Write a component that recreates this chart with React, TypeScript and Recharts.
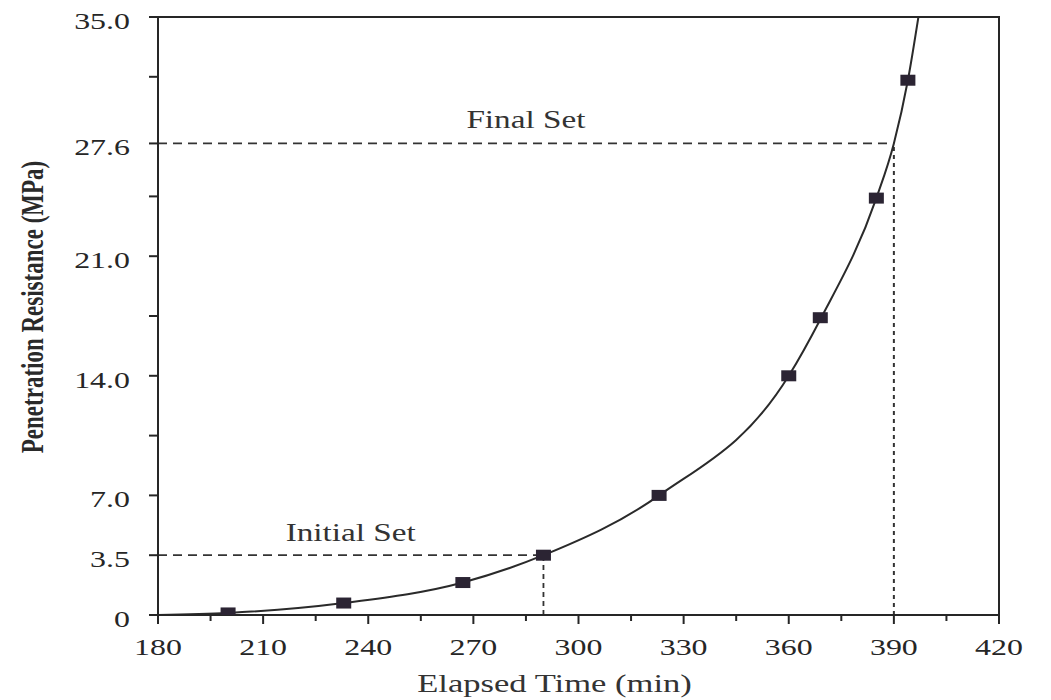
import React from 'react';
import {
  ComposedChart,
  Line,
  Scatter,
  XAxis,
  YAxis,
  ReferenceLine,
  ReferenceArea,
} from 'recharts';

// ---- data ----
const timeTicks = [180, 195, 210, 225, 240, 255, 270, 285, 300, 315, 330, 345, 360, 375, 390, 405, 420];
const timeTickLabels = ['180', '', '210', '', '240', '', '270', '', '300', '', '330', '', '360', '', '390', '', '420'];

const resistanceTicks = [0, 3.5, 7, 10.5, 14, 17.5, 21, 24.5, 27.6, 31.5, 35];
const resistanceTickLabels = ['0', '3.5', '7.0', '', '14.0', '', '21.0', '', '27.6', '', '35.0'];

const measuredTime = [200, 233, 267, 290, 323, 360, 369, 385, 394];
const measuredResistance = [0.12, 0.7, 1.9, 3.5, 7.0, 14.0, 17.4, 24.4, 31.3];

const curveTime = [180, 200, 233, 267, 290, 323, 360, 369, 385, 390, 394, 397];
const curveResistance = [0, 0.12, 0.7, 1.9, 3.5, 7.0, 14.0, 17.3, 24.4, 27.6, 31.3, 35.0];

const setNames = ['Initial Set', 'Final Set'];
const setTime = [290, 390];
const setResistance = [3.5, 27.6];

const xAxisTitle = 'Elapsed Time (min)';
const yAxisTitle = 'Penetration Resistance (MPa)';

// ---- derived tables ----
const measuredPoints = measuredTime.map((t, i) => ({ time: t, resistance: measuredResistance[i] }));
const curvePoints = curveTime.map((t, i) => ({ time: t, resistance: curveResistance[i] }));

const FONT = '"Liberation Serif", "Times New Roman", serif';
const INK = '#262626';
const SX = 1.33;

function TimeTick(props: any) {
  const { x, y, payload } = props;
  const idx = timeTicks.indexOf(payload.value);
  const label = idx >= 0 ? timeTickLabels[idx] : '';
  const major = label !== '';
  return (
    <g transform={`translate(${x},${y})`}>
      <line x1={0} y1={0} x2={0} y2={major ? 9 : 6} stroke={INK} strokeWidth={2} />
      {major && (
        <text
          transform={`scale(${SX},1)`}
          x={0}
          y={40}
          textAnchor="middle"
          fontFamily={FONT}
          fontSize={24}
          fill={INK}
        >
          {label}
        </text>
      )}
    </g>
  );
}

function ResistanceTick(props: any) {
  const { x, y, payload } = props;
  const idx = resistanceTicks.indexOf(payload.value);
  const label = idx >= 0 ? resistanceTickLabels[idx] : '';
  return (
    <g transform={`translate(${x},${y})`}>
      <line x1={0} y1={0} x2={-9} y2={0} stroke={INK} strokeWidth={2} />
      {label !== '' && (
        <g transform={`translate(-28,0) scale(${SX},1)`}>
          <text x={0} y={12} textAnchor="end" fontFamily={FONT} fontSize={24} fill={INK}>
            {label}
          </text>
        </g>
      )}
    </g>
  );
}

function SquareMarker(props: any) {
  const { cx, cy } = props;
  if (cx == null || cy == null) return null;
  return <rect x={cx - 7.5} y={cy - 5.5} width={15} height={11} fill="#2b2433" />;
}

function makeSetLabel(text: string, offset: number) {
  return (props: any) => {
    const vb = props.viewBox || {};
    const cx = (vb.x ?? 0) + (vb.width ?? 0) / 2;
    const cy = (vb.y ?? 0) - offset;
    return (
      <g transform={`translate(${cx},${cy}) scale(${SX},1)`}>
        <text x={0} y={0} textAnchor="middle" fontFamily={FONT} fontSize={25} fill="#333">
          {text}
        </text>
      </g>
    );
  };
}

function XTitle(props: any) {
  const vb = props.viewBox || {};
  const cx = vb.x + vb.width / 2 - 24;
  const cy = vb.y + 77;
  return (
    <g transform={`translate(${cx},${cy}) scale(${SX},1)`}>
      <text x={0} y={0} textAnchor="middle" fontFamily={FONT} fontSize={26} fill="#333">
        {xAxisTitle}
      </text>
    </g>
  );
}

function YTitle(props: any) {
  const vb = props.viewBox || {};
  const cy = vb.y + vb.height / 2 - 9;
  return (
    <g transform={`translate(24,${cy}) scale(${SX},1) rotate(-90)`}>
      <text x={0} y={0} dy="0.35em" textAnchor="middle" fontFamily={FONT} fontSize={23} fontWeight="bold" fill="#2a2a2a">
        {yAxisTitle}
      </text>
    </g>
  );
}

export default function App() {
  return (
    <div style={{ width: 1043, height: 692, fontFamily: FONT, background: '#fff' }}>
      <ComposedChart
        width={1043}
        height={692}
        margin={{ top: 9, right: 52, bottom: 0, left: 0 }}
      >
        <XAxis
          dataKey="time"
          type="number"
          domain={[180, 420]}
          ticks={timeTicks}
          interval={0}
          allowDataOverflow
          height={85}
          tickSize={0}
          tickMargin={0}
          tickLine={false}
          axisLine={{ stroke: INK, strokeWidth: 2 }}
          tick={<TimeTick />}
          label={<XTitle />}
        />
        <YAxis
          dataKey="resistance"
          type="number"
          domain={[0, 35]}
          ticks={resistanceTicks}
          interval={0}
          allowDataOverflow
          width={150}
          tickSize={0}
          tickMargin={0}
          tickLine={false}
          axisLine={{ stroke: INK, strokeWidth: 2 }}
          tick={<ResistanceTick />}
          label={<YTitle />}
        />
        <ReferenceArea
          x1={180}
          x2={420}
          y1={0}
          y2={35}
          fill="none"
          stroke={INK}
          strokeWidth={2}
        />
        {/* Initial set guide lines */}
        <ReferenceLine
          segment={[
            { x: 180, y: setResistance[0] },
            { x: setTime[0], y: setResistance[0] },
          ]}
          stroke="#333"
          strokeWidth={1.8}
          strokeDasharray="9 6"
          label={makeSetLabel(setNames[0], 14)}
        />
        <ReferenceLine
          segment={[
            { x: setTime[0], y: 0 },
            { x: setTime[0], y: setResistance[0] },
          ]}
          stroke="#333"
          strokeWidth={1.8}
          strokeDasharray="5 4"
        />
        {/* Final set guide lines */}
        <ReferenceLine
          segment={[
            { x: 180, y: setResistance[1] },
            { x: setTime[1], y: setResistance[1] },
          ]}
          stroke="#333"
          strokeWidth={1.8}
          strokeDasharray="9 6"
          label={makeSetLabel(setNames[1], 15)}
        />
        <ReferenceLine
          segment={[
            { x: setTime[1], y: 0 },
            { x: setTime[1], y: setResistance[1] },
          ]}
          stroke="#333"
          strokeWidth={2}
          strokeDasharray="4 4"
        />
        <Line
          data={curvePoints}
          dataKey="resistance"
          type="monotone"
          stroke="#2a2a2a"
          strokeWidth={2}
          dot={false}
          activeDot={false}
          isAnimationActive={false}
        />
        <Scatter
          data={measuredPoints}
          dataKey="resistance"
          shape={<SquareMarker />}
          isAnimationActive={false}
        />
      </ComposedChart>
    </div>
  );
}
